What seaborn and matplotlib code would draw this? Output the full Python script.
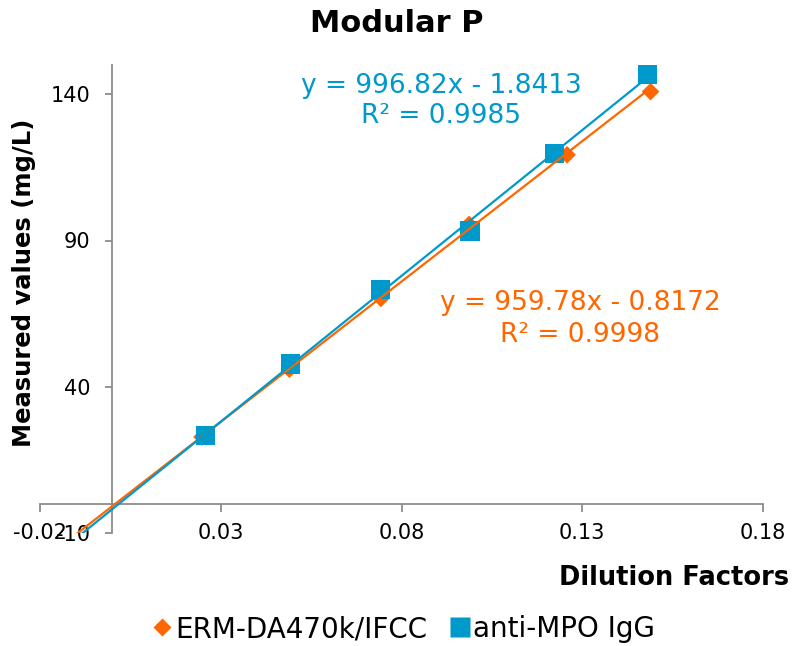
import matplotlib
matplotlib.use("Agg")
import matplotlib.pyplot as plt
from matplotlib.lines import Line2D
import numpy as np
import pandas as pd
import seaborn as sns

# Dilution factors and measured concentrations for the two calibrators
erm_x = [0.0248, 0.0490, 0.0743, 0.0987, 0.1258, 0.1489]
erm_y = [22.8, 46.0, 70.2, 95.5, 119.3, 140.9]
mpo_x = [0.0258, 0.0493, 0.0742, 0.0989, 0.1224, 0.1480]
mpo_y = [23.3, 47.8, 73.2, 93.2, 119.8, 146.7]

series_names = ["ERM-DA470k/IFCC", "anti-MPO IgG"]
# Linear trendline coefficients (slope, intercept, R²)
slopes = [959.78, 996.82]
intercepts = [-0.8172, -1.8413]
r_squared = [0.9998, 0.9985]

x_ticks = [-0.02, 0.03, 0.08, 0.13, 0.18]
x_tick_labels = ["-0.02", "0.03", "0.08", "0.13", "0.18"]
y_ticks = [-10, 40, 90, 140]
y_tick_labels = ["-10", "40", "90", "140"]

ORANGE = "#FF6600"
BLUE = "#0099CC"
AXIS_GREY = "#8C8C8C"

sns.set_theme(style="white")
plt.rcParams["font.family"] = ["DejaVu Sans"]
plt.rcParams["text.color"] = "black"

W, H = 794, 646
fig = plt.figure(figsize=(W / 100, H / 100), dpi=100)
ax = fig.add_axes([40 / W, 1 - 533 / H, (763 - 40) / W, (533 - 65) / H])

df = pd.concat([
    pd.DataFrame({"x": erm_x, "y": erm_y, "series": series_names[0]}),
    pd.DataFrame({"x": mpo_x, "y": mpo_y, "series": series_names[1]}),
], ignore_index=True)

palette = {series_names[0]: ORANGE, series_names[1]: BLUE}
markers = {series_names[0]: "D", series_names[1]: "s"}
sizes_pt = {series_names[0]: 9.0, series_names[1]: 14.0}

for name in series_names:
    sub = df[df["series"] == name]
    sns.scatterplot(data=sub, x="x", y="y", ax=ax, color=palette[name],
                    marker=markers[name], s=sizes_pt[name] ** 2,
                    edgecolor="none", linewidth=0, legend=False, zorder=3)

# Trendlines, extended backwards and clipped by the plot area
for name, xs, m, b in zip(series_names, [erm_x, mpo_x], slopes, intercepts):
    tx = np.array([-0.02, max(xs)])
    tdf = pd.DataFrame({"x": tx, "y": m * tx + b})
    sns.lineplot(data=tdf, x="x", y="y", ax=ax, color=palette[name],
                 linewidth=1.6, legend=False, zorder=4)

ax.set_xlim(-0.02, 0.18)
ax.set_ylim(-10, 150)

# Axes cross at the origin
for side in ["top", "right"]:
    ax.spines[side].set_visible(False)
ax.spines["left"].set_position(("data", 0))
ax.spines["bottom"].set_position(("data", 0))
for side in ["left", "bottom"]:
    ax.spines[side].set_color(AXIS_GREY)
    ax.spines[side].set_linewidth(1.3)

ax.set_xticks(x_ticks)
ax.set_xticklabels(x_tick_labels)
ax.set_yticks(y_ticks)
ax.set_yticklabels(y_tick_labels)
ax.tick_params(axis="x", direction="out", length=6, width=1.3,
               color=AXIS_GREY, labelsize=15, pad=8, labelcolor="black",
               bottom=True)
ax.tick_params(axis="y", direction="out", length=5, width=1.3,
               color=AXIS_GREY, labelsize=15, pad=11, labelcolor="black",
               left=True)
ax.set_xlabel("")
ax.set_ylabel("")
ax.grid(False)

# Trendline equations
eq_fs = 19
ax.text(0.0910, 142.9, f"y = {slopes[1]}x - {abs(intercepts[1])}",
        color=BLUE, fontsize=eq_fs, ha="center", va="center")
ax.text(0.0910, 132.6, f"R² = {r_squared[1]}",
        color=BLUE, fontsize=eq_fs, ha="center", va="center")
ax.text(0.1294, 68.5, f"y = {slopes[0]}x - {abs(intercepts[0])}",
        color=ORANGE, fontsize=eq_fs, ha="center", va="center")
ax.text(0.1294, 57.6, f"R² = {r_squared[0]}",
        color=ORANGE, fontsize=eq_fs, ha="center", va="center")

fig.text(397 / W, 1 - 23 / H, "Modular P", fontsize=22, fontweight="bold",
         ha="center", va="center")
fig.text(789 / W, 1 - 578 / H, "Dilution Factors", fontsize=18.5,
         fontweight="bold", ha="right", va="center")
fig.text(24 / W, 1 - 283 / H, "Measured values (mg/L)", fontsize=17.5,
         fontweight="bold", ha="center", va="center", rotation=90)

handles = [
    Line2D([], [], linestyle="none", marker="D", markersize=9,
           markerfacecolor=ORANGE, markeredgecolor="none"),
    Line2D([], [], linestyle="none", marker="s", markersize=14,
           markerfacecolor=BLUE, markeredgecolor="none"),
]
fig.legend(handles, series_names, loc="center", ncol=2,
           bbox_to_anchor=(403 / W, 1 - 629 / H), frameon=False,
           fontsize=20, handletextpad=0.05, columnspacing=0.8,
           handlelength=0.8, borderaxespad=0)

fig.savefig("out.png", dpi=100)
